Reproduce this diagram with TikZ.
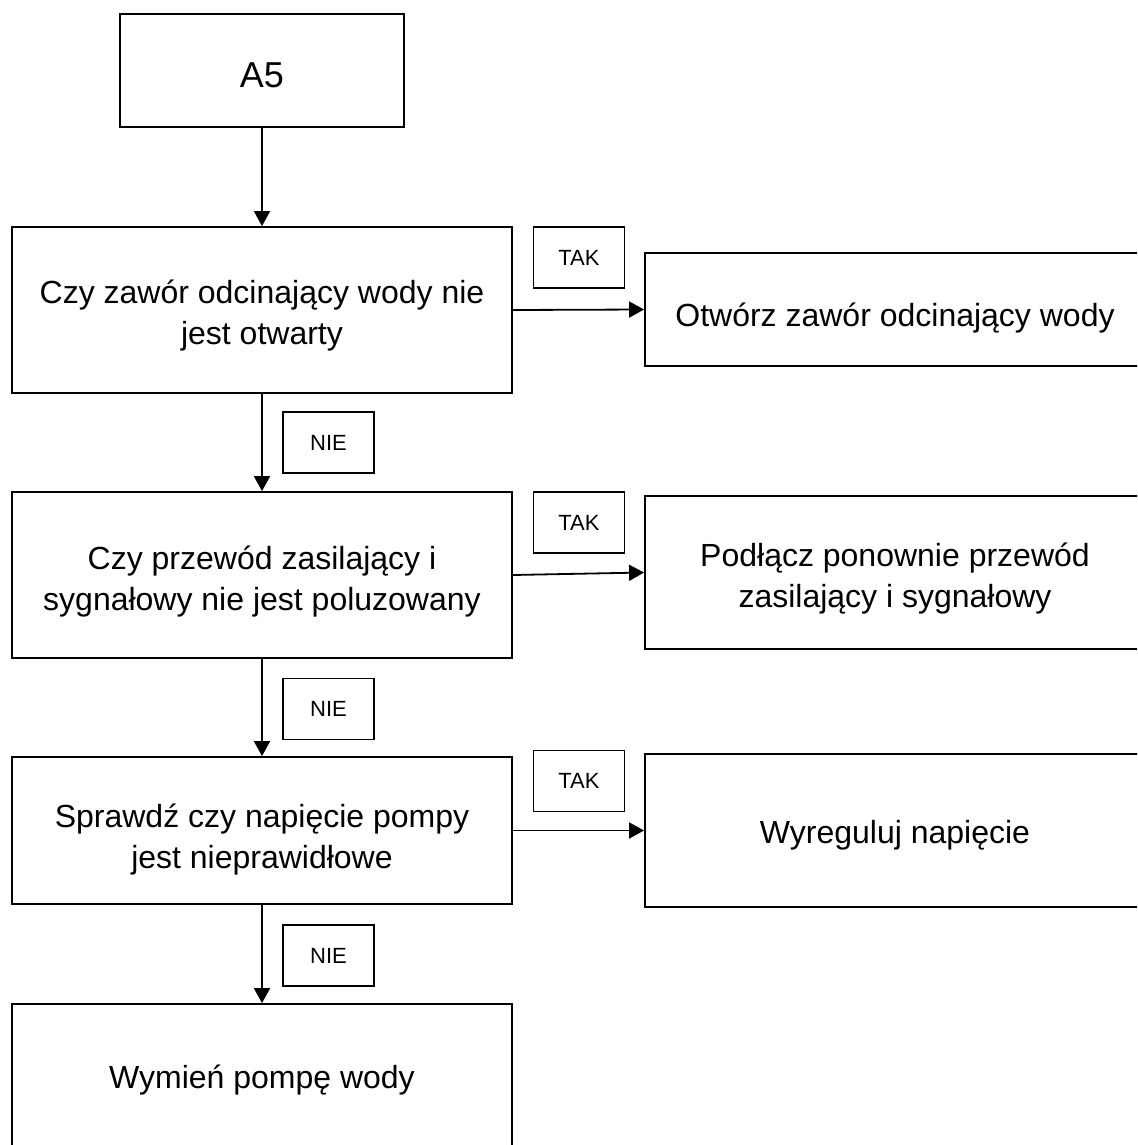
\documentclass[tikz,border=0pt]{standalone}
\usepackage{fontspec}
\setmainfont{Liberation Sans}
\usetikzlibrary{arrows.meta}
\begin{document}
\begin{tikzpicture}[x=0.5pt,y=-0.5pt,
  box/.style={draw,line width=0.9pt,inner sep=0pt},
  lab/.style={align=center,inner sep=0pt,font=\fontsize{16}{20.5}\selectfont},
  lbl/.style={draw,line width=0.7pt,inner sep=0pt,minimum width=45.5pt,
    minimum height=30.5pt,font=\fontsize{11}{13}\selectfont},
  arr/.style={line width=0.9pt,-{Triangle[length=7.5pt,width=8pt]}}]
\useasboundingbox (0,0) rectangle (1137,1145);
\clip (0,0) rectangle (1137,1145);
% main column
\node[box,minimum width=142pt,minimum height=56.5pt,
  label={[lab,yshift=-2.5pt,font=\fontsize{18}{22}\selectfont]center:A5}] (a5) at (262,70.5) {};
\node[box,minimum width=250pt,minimum height=83pt,
  label={[lab,yshift=-3pt]center:{Czy zawór odcinający wody nie\\jest otwarty}}] (b1) at (262,310) {};
\node[box,minimum width=250pt,minimum height=83pt,
  label={[lab,yshift=-3.5pt]center:{Czy przewód zasilający i\\sygnałowy nie jest poluzowany}}] (b2) at (262,575) {};
\node[box,minimum width=250pt,minimum height=73.5pt,
  label={[lab,yshift=-4.5pt]center:{Sprawdź czy napięcie pompy\\jest nieprawidłowe}}] (b3) at (262,830.5) {};
\node[box,minimum width=250pt,minimum height=76pt,
  label={[lab]center:Wymień pompę wody}] (b4) at (262,1080) {};
% right column
\node[box,minimum width=250pt,minimum height=56.5pt,
  label={[lab,yshift=-4.5pt]center:Otwórz zawór odcinający wody}] (ot) at (895,309.5) {};
\node[box,minimum width=250pt,minimum height=76.5pt,
  label={[lab,yshift=-3pt]center:{Podłącz ponownie przewód\\zasilający i sygnałowy}}] (pod) at (895,572.5) {};
\node[box,minimum width=250pt,minimum height=76.5pt,
  label={[lab,yshift=-2.5pt]center:Wyreguluj napięcie}] (wy) at (895,830.5) {};
% labels
\node[lbl] (tak1) at (579,257.5) {TAK};
\node[lbl] (tak2) at (579,522.5) {TAK};
\node[lbl] (tak3) at (579,781) {TAK};
\node[lbl] (nie1) at (328.5,442.5) {NIE};
\node[lbl] (nie2) at (328.5,709) {NIE};
\node[lbl] (nie3) at (328.5,955.5) {NIE};
% connectors
\draw[arr] (a5.south) -- (b1.north);
\draw[arr] (b1.south) -- (b2.north);
\draw[arr] (b2.south) -- (b3.north);
\draw[arr] (b3.south) -- (b4.north);
\draw[arr] (b1.east) -- (ot.west);
\draw[arr] (b2.east) -- (pod.west);
\draw[arr] (b3.east) -- (wy.west);
\end{tikzpicture}
\end{document}
